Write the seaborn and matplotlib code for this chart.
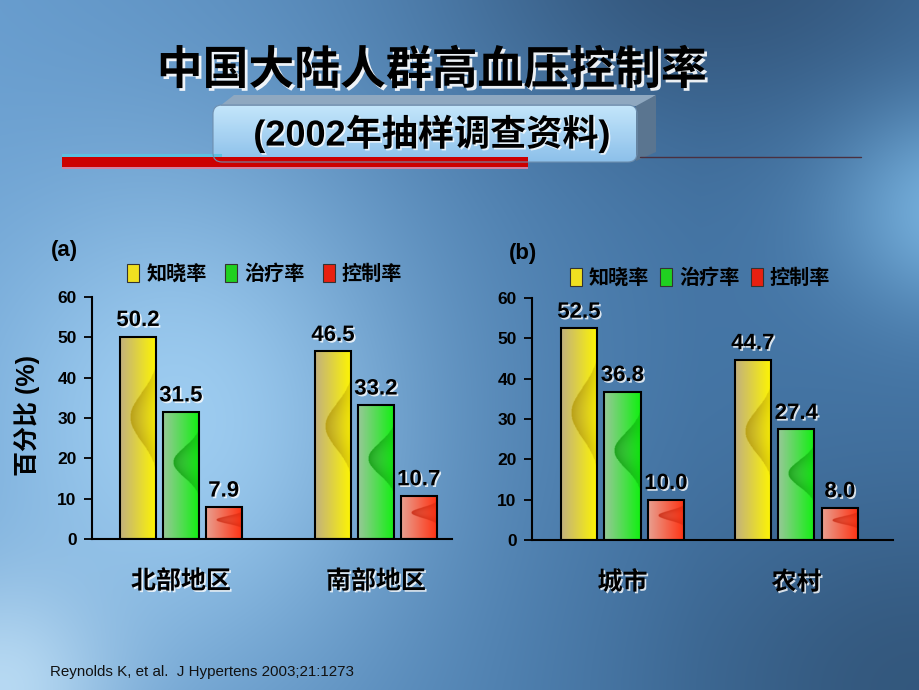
import numpy as np
import pandas as pd
import matplotlib
matplotlib.use('Agg')
import matplotlib.pyplot as plt
import matplotlib.patheffects as pe
from matplotlib.patches import Polygon, Rectangle, FancyBboxPatch, Patch
import seaborn as sns

sns.set_style('ticks')
plt.rcParams['font.family'] = ['Liberation Sans', 'Noto Sans CJK SC']
plt.rcParams['font.weight'] = 'bold'
for k in ['text.color', 'axes.labelcolor', 'xtick.color', 'ytick.color']:
    plt.rcParams[k] = 'black'

# ---------------- data ----------------
metrics = ['知晓率', '治疗率', '控制率']
regions_a = ['北部地区', '南部地区']
awareness_a = [50.2, 46.5]
treatment_a = [31.5, 33.2]
control_a = [7.9, 10.7]
regions_b = ['城市', '农村']
awareness_b = [52.5, 44.7]
treatment_b = [36.8, 27.4]
control_b = [10.0, 8.0]
yticks = [0, 10, 20, 30, 40, 50, 60]

title = '中国大陆人群高血压控制率'
subtitle = '(2002年抽样调查资料)'
ylabel = '百分比 (%)'
citation = 'Reynolds K, et al.  J Hypertens 2003;21:1273'
panel_labels = ['(a)', '(b)']

W, H = 920, 690


def hexrgb(h):
    return np.array([int(h[i:i + 2], 16) / 255 for i in (1, 3, 5)])


def blend(img, col, w):
    w = np.clip(w, 0, 1)[..., None]
    return img * (1 - w) + hexrgb(col) * w


# ---------------- background ----------------
yy, xx = np.mgrid[0:H, 0:W].astype(float)
bg = np.ones((H, W, 3)) * hexrgb('#4576a6')
bg = blend(bg, '#6ea4d6', np.clip(1 - xx / 700, 0, 1) * 0.8)
bg = blend(bg, '#a8d6f8', 0.85 * np.exp(-(((xx - 180) / 230) ** 2 + ((yy - 420) / 260) ** 2)))
bg = blend(bg, '#2e4d70', 0.8 * np.exp(-(((xx - 720) / 260) ** 2 + ((yy + 40) / 170) ** 2)))
bg = blend(bg, '#2c4b6c', 0.7 * np.exp(-(((xx - 920) / 260) ** 2 + ((yy - 690) / 200) ** 2)))
bg = blend(bg, '#8ccaf5', 0.7 * np.exp(-(((xx - 960) / 120) ** 2 + ((yy - 210) / 100) ** 2)))
bg = blend(bg, '#c8e6fa', 0.8 * np.exp(-(((xx - 0) / 120) ** 2 + ((yy - 690) / 120) ** 2)))

fig = plt.figure(figsize=(9.2, 6.9), dpi=100)
ax_bg = fig.add_axes([0, 0, 1, 1], zorder=-10)
ax_bg.imshow(bg, extent=(0, W, H, 0), aspect='auto', interpolation='bilinear')
ax_bg.set_xlim(0, W)
ax_bg.set_ylim(H, 0)
ax_bg.axis('off')

# red decorative line
ax_bg.add_patch(Rectangle((62, 154), 160, 3, color='#5fc0e0', lw=0))
ax_bg.add_patch(Rectangle((62, 157), 466, 10, color='#cc0000', lw=0))
ax_bg.add_patch(Rectangle((62, 167), 466, 2, color='#d080a0', lw=0))
ax_bg.plot([640, 861], [157, 157], color='#4a3040', lw=1)

# 3D subtitle box
ax_bg.add_patch(Polygon([(220, 106), (234, 95), (656, 95), (640, 106)],
                        closed=True, color='#8fa8c0', lw=0))
ax_bg.add_patch(Polygon([(636, 106), (656, 95), (656, 152), (636, 161)],
                        closed=True, color='#5a7590', lw=0))
front = FancyBboxPatch((213, 105), 424, 57, boxstyle='round,pad=0,rounding_size=9',
                       facecolor='none', edgecolor='#6f90b0', lw=0.8)
ax_bg.add_patch(front)
grad = np.linspace(0, 1, 60)[:, None, None]
front_img = hexrgb('#c4e6fb') * (1 - grad) + hexrgb('#8cc0ea') * grad
front_img = np.repeat(front_img, 10, axis=1)
im = ax_bg.imshow(front_img, extent=(213, 637, 162, 105), aspect='auto', interpolation='bilinear')
im.set_clip_path(front)

shadow_big = [pe.SimplePatchShadow(offset=(2, -2), shadow_rgbFace='white', alpha=0.9), pe.Normal()]
shadow_small = [pe.SimplePatchShadow(offset=(1.2, -1.2), shadow_rgbFace='white', alpha=0.8), pe.Normal()]

ax_bg.text(432, 72, title, fontsize=33, fontweight='bold', ha='center', va='center',
           color='black', path_effects=shadow_big)
ax_bg.text(432, 134, subtitle, fontsize=26, fontweight='bold', ha='center', va='center',
           color='black', path_effects=shadow_small)
ax_bg.text(50, 672, citation, fontsize=10.9, fontweight='normal', ha='left', va='center',
           color='#111111')

# ---------------- bar gradient ----------------
bar_cols = {
    '知晓率': ('#c2b07e', '#fff700', '#b09400'),
    '治疗率': ('#98c898', '#10f010', '#009000'),
    '控制率': ('#e8a090', '#ff3010', '#c01800'),
}
legend_cols = {'知晓率': '#f0e020', '治疗率': '#20d020', '控制率': '#e82010'}


def bar_gradient(left, right, dark):
    v = np.linspace(0, 1, 160)[:, None]
    u = np.linspace(0, 1, 80)[None, :]
    base = hexrgb(left) * (1 - u[..., None]) + hexrgb(right) * u[..., None]
    bell = np.exp(-((v - 0.6) / 0.17) ** 2)
    b = 1.05 - 0.77 * bell
    dist = u - b
    d = np.where(dist > 0, np.exp(-dist / 0.4), 0.0) * np.sqrt(bell)
    return blend(base, dark, 0.75 * d)


def draw_panel(ax, regions, values, width, gap, xlim, legend_anchor, colsp, show_ylabel):
    df = pd.DataFrame({
        'region': [r for r in regions for _ in metrics],
        'metric': metrics * len(regions),
        'value': [values[m][i] for i in range(len(regions)) for m in range(3)],
    })
    sns.barplot(data=df, x='region', y='value', hue='metric', order=regions,
                hue_order=metrics, palette=[legend_cols[m] for m in metrics],
                width=width, gap=gap, ax=ax, legend=False, saturation=1,
                errorbar=None)
    for metric, cont in zip(metrics, ax.containers):
        gimg = bar_gradient(*bar_cols[metric])
        for bar in cont:
            x0, w, h = bar.get_x(), bar.get_width(), bar.get_height()
            im = ax.imshow(gimg, extent=(x0, x0 + w, 0, h), origin='lower',
                           aspect='auto', interpolation='bilinear', zorder=2.5)
            im.set_clip_path(bar)
            bar.set_facecolor('none')
            bar.set_edgecolor('black')
            bar.set_linewidth(1.5)
            bar.set_zorder(3)
        ax.bar_label(cont, labels=[f'{b.get_height():.1f}' for b in cont], padding=4,
                     fontsize=16, fontweight='bold', color='black',
                     path_effects=shadow_small)
    ax.set_xlim(*xlim)
    ax.set_ylim(0, 60)
    ax.set_yticks(yticks)
    ax.set_facecolor('none')
    for s in ['top', 'right']:
        ax.spines[s].set_visible(False)
    for s in ['left', 'bottom']:
        ax.spines[s].set_linewidth(1.5)
        ax.spines[s].set_color('black')
    ax.tick_params(axis='y', length=6, width=1.3, pad=5, labelsize=12.5, colors='black')
    ax.tick_params(axis='x', length=0, pad=22, labelsize=18, colors='black')
    for lab in ax.get_xticklabels():
        lab.set_fontweight('bold')
        lab.set_path_effects(shadow_small)
    for lab in ax.get_yticklabels():
        lab.set_fontweight('bold')
    ax.set_xlabel('')
    if show_ylabel:
        ax.set_ylabel(ylabel, fontsize=18, fontweight='bold', color='black')
        ax.yaxis.set_label_coords(-0.145, 0.51)
    else:
        ax.set_ylabel('')
    handles = [Patch(facecolor=legend_cols[m], edgecolor='#333333', lw=0.8) for m in metrics]
    ax.legend(handles, metrics, ncol=3, loc='center', bbox_to_anchor=legend_anchor,
              frameon=False, handlelength=0.6, handleheight=1.0, handletextpad=0.35,
              columnspacing=colsp, prop=dict(size=14.5, weight='bold'))


ax_a = fig.add_axes([92 / W, 1 - 539 / H, 360 / W, 242 / H])
draw_panel(ax_a, regions_a, [awareness_a, treatment_a, control_a],
           0.66, 0.16, (-0.456, 1.39), (0.48, 1.095), 0.9, True)

ax_b = fig.add_axes([532 / W, 1 - 540 / H, 361 / W, 242 / H])
draw_panel(ax_b, regions_b, [awareness_b, treatment_b, control_b],
           0.75, 0.17, (-0.52, 1.555), (0.465, 1.083), 0.55, False)

fig.text(64 / W, 1 - 250 / H, panel_labels[0], fontsize=16, fontweight='bold',
         ha='center', va='center', color='black')
fig.text(523 / W, 1 - 253 / H, panel_labels[1], fontsize=16, fontweight='bold',
         ha='center', va='center', color='black')

fig.savefig('out.png', dpi=100)
